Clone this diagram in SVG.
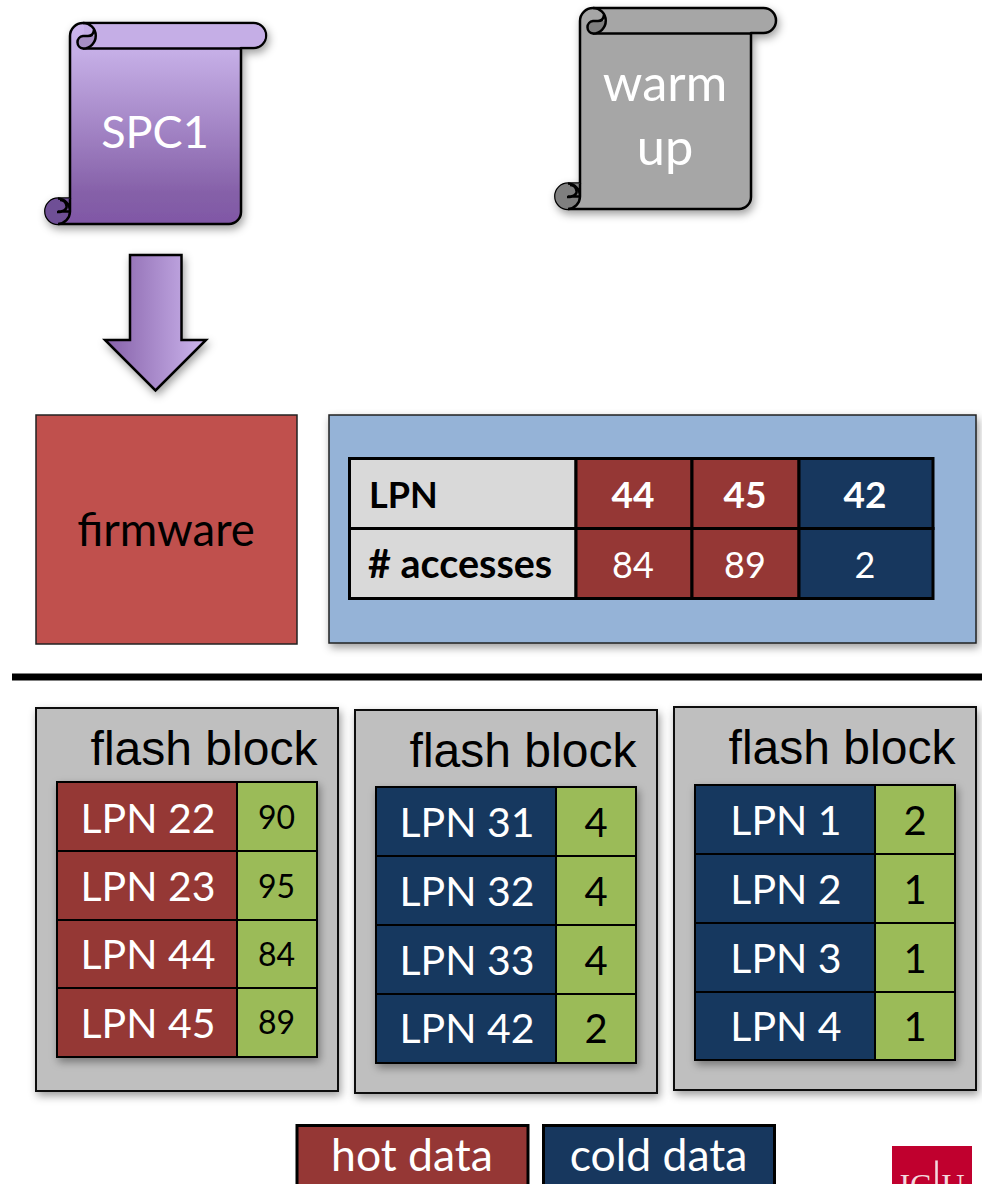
<svg xmlns="http://www.w3.org/2000/svg" width="982" height="1184" viewBox="0 0 982 1184">
<style>
text{font-family:Lato,"Noto Sans",sans-serif;text-anchor:middle}
.w{fill:#fff}.k{fill:#000}
.a{font-family:"Liberation Sans",Arial,sans-serif;font-size:48px;fill:#000}
.l{font-size:41px;fill:#fff}
.n{font-size:40px;fill:#000}
.s{font-size:32px;fill:#000}
.t{font-size:36px;fill:#fff}
.tb{font-size:37px;font-weight:700;fill:#fff}
.th{font-size:36px;font-weight:700;fill:#000;text-anchor:start}
.hot{fill:#953735;stroke:#000;stroke-width:2}
.cold{fill:#17375e;stroke:#000;stroke-width:2}
.grn{fill:#9bbb59;stroke:#000;stroke-width:2}
.blk{fill:#bfbfbf;stroke:#111;stroke-width:2}
.hd{fill:#d9d9d9;stroke:#000;stroke-width:3}
.b3{stroke-width:3}
.scr{stroke:#000;stroke-width:2.500;stroke-linejoin:round}
</style>
<defs>
<linearGradient id="pv" x1="0" y1="0" x2="0" y2="1"><stop offset="0" stop-color="#cdb6ee"/><stop offset="0.15" stop-color="#c5aee6"/><stop offset="0.85" stop-color="#8560a8"/><stop offset="1" stop-color="#8057a6"/></linearGradient>
<linearGradient id="ph" x1="0" y1="0" x2="1" y2="0"><stop offset="0" stop-color="#8560a8"/><stop offset="1" stop-color="#cdb6ee"/></linearGradient>
<filter id="sh" x="-10%" y="-10%" width="125%" height="125%"><feDropShadow dx="2" dy="4" stdDeviation="4" flood-color="#000" flood-opacity="0.38"/></filter>
<g id="scroll">
<path class="scr" d="M241,48V212a12,12 0 0 1 -12,12H58a12.700,12.700 0 0 1 0,-25.400H70V36a13,13 0 0 1 13,-13H253.500a12.500,12.500 0 0 1 0,25Z"/>
<path class="scr" fill="none" d="M83,48.500H241"/>
</g>
<g id="curls">
<path class="scr" fill="none" d="M58,198.600A12.700,12.700 0 0 1 70,211.500V198.600M70,211.500A12.700,12.700 0 0 1 58,224"/>
<path class="scr" fill="none" d="M58,211.500H70M57,212C65,212 68,208 66,204C65,201.500 63,200 60,200"/>
<path class="scr" fill="none" d="M83,23A12.750,12.750 0 0 1 83,48.500A6.300,6.300 0 0 1 83,36H88C91,36 93.500,34 94,30"/>
</g>
</defs>

<g id="spc1">
<g filter="url(#sh)"><use href="#scroll" fill="url(#pv)"/></g>
<path fill="#c5aee6" d="M84,24.500H254a11,11 0 0 1 0,22H84Z"/>
<path fill="#a78fc4" d="M77,42a6.300,6.300 0 0 1 6,-6H95.500A12.700,12.700 0 0 1 83,48.500A6.300,6.300 0 0 1 77,42Z"/>
<path fill="#6f4f96" d="M58,198.600A12.700,12.700 0 0 0 58,224A12.700,12.700 0 0 0 70,211.500V198.600Z"/>
<use href="#curls"/>
<text class="w" x="155" y="148" font-size="45">SPC1</text>
</g>

<g id="warmup">
<g transform="translate(510,-15)">
<g filter="url(#sh)"><use href="#scroll" fill="#a6a6a6"/></g>
<path fill="#7f7f7f" d="M77,42a6.300,6.300 0 0 1 6,-6H95.500A12.700,12.700 0 0 1 83,48.500A6.300,6.300 0 0 1 77,42Z"/>
<path fill="#7f7f7f" d="M58,198.600A12.700,12.700 0 0 0 58,224A12.700,12.700 0 0 0 70,211.500V198.600Z"/>
<use href="#curls"/>
</g>
<text class="w" x="665" y="101" font-size="50.500">warm</text>
<text class="w" x="665" y="165" font-size="50.500">up</text>
</g>

<g id="connectors">
<path id="arrow" filter="url(#sh)" fill="url(#ph)" stroke="#000" stroke-width="2.500" d="M130,255H181.500V340H206L155.500,390.500L105,340H130Z"/>
</g>

<g id="firmware">
<rect x="36" y="415" width="261" height="229" fill="#c0504d" stroke="#222" stroke-width="1.500"/>
<text class="k" x="166" y="546" font-size="45.500">firmware</text>
</g>

<g id="table-panel">
<rect x="329" y="415" width="647" height="228" fill="#95b3d7" stroke="#222" stroke-width="1.500" filter="url(#sh)"/>
<rect class="hd" x="349.500" y="458.500" width="226.500" height="70"/>
<rect class="hd" x="349.500" y="528.500" width="226.500" height="70"/>
<rect class="hot b3" x="576" y="458.500" width="116" height="70"/>
<rect class="hot b3" x="692" y="458.500" width="107" height="70"/>
<rect class="cold b3" x="799" y="458.500" width="134" height="70"/>
<rect class="hot b3" x="576" y="528.500" width="116" height="70"/>
<rect class="hot b3" x="692" y="528.500" width="107" height="70"/>
<rect class="cold b3" x="799" y="528.500" width="134" height="70"/>
<text class="th" x="369" y="508">LPN</text>
<text class="th" x="368" y="578" style="font-size:39.500px"># accesses</text>
<text class="tb" x="633" y="508">44</text>
<text class="tb" x="745" y="508">45</text>
<text class="tb" x="865" y="508">42</text>
<text class="t" x="633" y="578">84</text>
<text class="t" x="745" y="578">89</text>
<text class="t" x="865" y="578">2</text>
</g>

<rect id="divider" x="12" y="673.500" width="970" height="7" fill="#000"/>

<g id="block1">
<rect class="blk" x="36" y="708" width="302" height="383" filter="url(#sh)"/>
<text class="a" x="204" y="765">flash block</text>
<g filter="url(#sh)">
<rect class="hot" x="57" y="782" width="180" height="69"/><rect class="grn" x="237" y="782" width="80" height="69"/>
<rect class="hot" x="57" y="851" width="180" height="69"/><rect class="grn" x="237" y="851" width="80" height="69"/>
<rect class="hot" x="57" y="920" width="180" height="68"/><rect class="grn" x="237" y="920" width="80" height="68"/>
<rect class="hot" x="57" y="988" width="180" height="69"/><rect class="grn" x="237" y="988" width="80" height="69"/>
</g>
<text class="l" x="148" y="833">LPN 22</text><text class="s" x="276.500" y="829">90</text>
<text class="l" x="148" y="901">LPN 23</text><text class="s" x="276.500" y="898">95</text>
<text class="l" x="148" y="969">LPN 44</text><text class="s" x="276.500" y="966">84</text>
<text class="l" x="148" y="1038">LPN 45</text><text class="s" x="276.500" y="1034">89</text>
</g>

<g id="block2">
<rect class="blk" x="355" y="710" width="302" height="383" filter="url(#sh)"/>
<text class="a" x="523" y="767">flash block</text>
<g filter="url(#sh)">
<rect class="cold" x="376" y="787" width="180" height="69"/><rect class="grn" x="556" y="787" width="80" height="69"/>
<rect class="cold" x="376" y="856" width="180" height="69"/><rect class="grn" x="556" y="856" width="80" height="69"/>
<rect class="cold" x="376" y="925" width="180" height="69"/><rect class="grn" x="556" y="925" width="80" height="69"/>
<rect class="cold" x="376" y="994" width="180" height="69"/><rect class="grn" x="556" y="994" width="80" height="69"/>
</g>
<text class="l" x="467" y="837">LPN 31</text><text class="n" x="596" y="837">4</text>
<text class="l" x="467" y="906">LPN 32</text><text class="n" x="596" y="906">4</text>
<text class="l" x="467" y="975">LPN 33</text><text class="n" x="596" y="975">4</text>
<text class="l" x="467" y="1043">LPN 42</text><text class="n" x="596" y="1043">2</text>
</g>

<g id="block3">
<rect class="blk" x="674" y="707" width="302" height="383" filter="url(#sh)"/>
<text class="a" x="842" y="764">flash block</text>
<g filter="url(#sh)">
<rect class="cold" x="695" y="785" width="180" height="69"/><rect class="grn" x="875" y="785" width="80" height="69"/>
<rect class="cold" x="695" y="854" width="180" height="69"/><rect class="grn" x="875" y="854" width="80" height="69"/>
<rect class="cold" x="695" y="923" width="180" height="69"/><rect class="grn" x="875" y="923" width="80" height="69"/>
<rect class="cold" x="695" y="992" width="180" height="68"/><rect class="grn" x="875" y="992" width="80" height="68"/>
</g>
<text class="l" x="786" y="835">LPN 1</text><text class="n" x="915" y="835">2</text>
<text class="l" x="786" y="904">LPN 2</text><text class="n" x="915" y="904">1</text>
<text class="l" x="786" y="973">LPN 3</text><text class="n" x="915" y="973">1</text>
<text class="l" x="786" y="1041">LPN 4</text><text class="n" x="915" y="1041">1</text>
</g>

<g id="legend-hot">
<rect class="hot b3" x="297" y="1125.500" width="231" height="62"/>
<text class="w" x="412" y="1171" font-size="44.500">hot data</text>
</g>
<g id="legend-cold">
<rect class="cold b3" x="543.500" y="1125.500" width="231" height="62"/>
<text class="w" x="658.500" y="1171" font-size="44.500">cold data</text>
</g>

<g id="logo">
<rect x="892" y="1146" width="80" height="38" fill="#c0002e"/>
<text x="932" y="1196" font-size="32" fill="#f3d9de" style="font-family:'Liberation Serif',serif">IC<tspan font-size="50">|</tspan>U</text>
</g>
</svg>
